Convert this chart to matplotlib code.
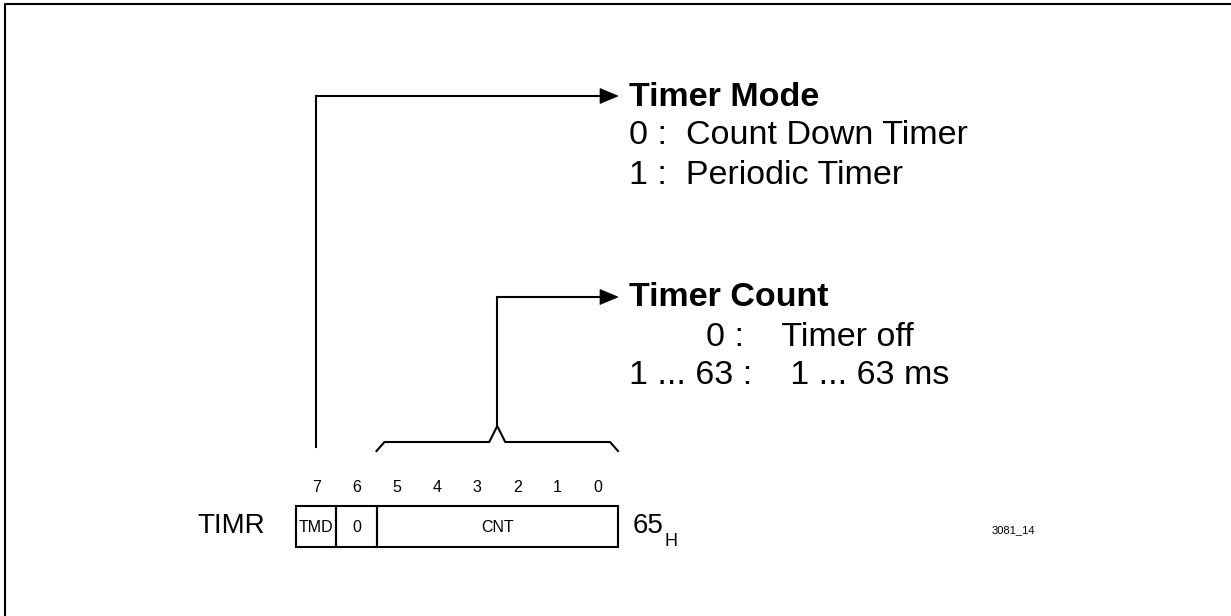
import matplotlib.pyplot as plt
from matplotlib.patches import Rectangle, Polygon

plt.rcParams['font.family'] = ['Liberation Sans', 'DejaVu Sans']

# register description
register = "TIMR"
address = "65"
address_suffix = "H"
bit_numbers = [7, 6, 5, 4, 3, 2, 1, 0]
field_names = ["TMD", "0", "CNT"]
field_bits = [1, 1, 6]
mode_title = "Timer Mode"
mode_lines = ["0 :  Count Down Timer", "1 :  Periodic Timer"]
count_title = "Timer Count"
count_lines = ["0 :    Timer off", "1 ... 63 :    1 ... 63 ms"]
count_line_x = [706, 629]
figure_id = "3081_14"

# layout (pixel coords of the canvas)
W, H = 1231, 616
box_x0, box_y0, box_y1 = 296, 506, 547
bit_w = 40.25
lw = 1.5
big = 24.5

fig = plt.figure(figsize=(W / 100, H / 100), dpi=100)
ax = fig.add_axes([0, 0, 1, 1])
ax.set_xlim(0, W)
ax.set_ylim(H, 0)
ax.axis('off')

# frame (only top and left edges visible)
ax.plot([5, 5, W], [H, 4, 4], color='black', lw=1.5, solid_capstyle='butt')

# register box and fields
pos = 0
for name, nb in zip(field_names, field_bits):
    x = box_x0 + pos * bit_w
    ax.add_patch(Rectangle((x, box_y0), nb * bit_w, box_y1 - box_y0,
                           fill=False, ec='black', lw=lw))
    ax.text(x + nb * bit_w / 2, (box_y0 + box_y1) / 2 + 1, name,
            ha='center', va='center', fontsize=11.5)
    pos += nb

for i, b in enumerate(bit_numbers):
    ax.text(box_x0 + (i + 0.5) * bit_w, 487, str(b),
            ha='center', va='center', fontsize=11.5)

ax.text(197, 526, register, ha='left', va='center', fontsize=20)
ax.text(633, 526, address, ha='left', va='center', fontsize=20)
ax.text(665, 541, address_suffix, ha='left', va='center', fontsize=13)
ax.text(1013, 530, figure_id, ha='center', va='center', fontsize=8)


def arrow_to(x_start, y_start, y_end, x_tip):
    ax.plot([x_start, x_start, x_tip - 12], [y_start, y_end, y_end],
            color='black', lw=lw, solid_joinstyle='miter')
    ax.add_patch(Polygon([[x_tip, y_end], [x_tip - 18, y_end - 7.5],
                          [x_tip - 18, y_end + 7.5]], closed=True,
                         fc='black', ec='black', lw=0.5))


# Timer Mode arrow from bit 7
tmd_x = box_x0 + 0.5 * bit_w
arrow_to(tmd_x, 447, 96, 618)
ax.text(629, 97, mode_title, ha='left', va='center', fontsize=big,
        fontweight='bold')
for k, line in enumerate(mode_lines):
    ax.text(629, 136 + 39 * k, line, ha='left', va='center', fontsize=big)

# bracket over CNT bits
bx0 = box_x0 + 2 * bit_w
bx1 = box_x0 + 8 * bit_w
bm = (bx0 + bx1) / 2
ax.plot([bx0, bx0 + 8, bm - 8, bm, bm + 8, bx1 - 8, bx1],
        [451, 442, 442, 426, 442, 442, 451], color='black', lw=lw)

# Timer Count arrow from bracket
arrow_to(bm, 426, 297, 618)
ax.text(629, 298, count_title, ha='left', va='center', fontsize=big,
        fontweight='bold')
for k, line in enumerate(count_lines):
    ax.text(count_line_x[k], 337 + 39 * k, line, ha='left', va='center',
            fontsize=big)

fig.savefig('out.png', dpi=100)
